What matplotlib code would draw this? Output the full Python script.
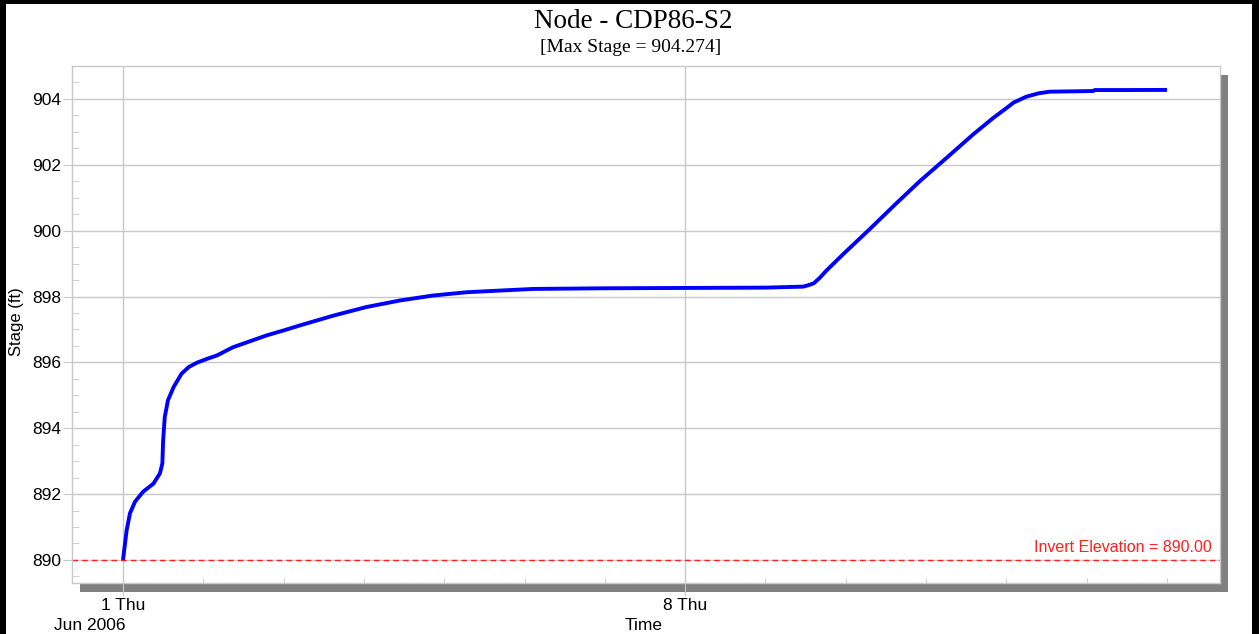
import matplotlib
matplotlib.use("Agg")
import matplotlib.pyplot as plt
import matplotlib.dates as mdates
from matplotlib.patches import Rectangle
import pandas as pd

# Stage hydrograph for node CDP86-S2 (days after 2006-06-01 00:00, stage in ft)
start = pd.Timestamp("2006-06-01")
day_offsets = [0.0, 0.046, 0.087, 0.15, 0.25, 0.38, 0.46, 0.49, 0.50, 0.52,
               0.56, 0.63, 0.73, 0.82, 0.92, 1.05, 1.17, 1.37, 1.58, 1.79,
               2.0, 2.2, 2.62, 3.03, 3.45, 3.86, 4.28, 4.69, 5.11, 6.0,
               7.0, 8.0, 8.47, 8.53, 8.6, 8.67, 8.76, 8.97, 9.3, 9.63,
               9.93, 10.26, 10.59, 10.84, 11.0, 11.09, 11.25, 11.4, 11.54, 12.08,
               12.1, 12.5, 13.0]
stage = [890.0, 890.91, 891.42, 891.77, 892.07, 892.32, 892.63, 892.93, 893.64, 894.34,
         894.85, 895.25, 895.66, 895.86, 895.99, 896.11, 896.21, 896.46, 896.64, 896.82,
         896.97, 897.12, 897.42, 897.68, 897.88, 898.03, 898.13, 898.18, 898.23, 898.25,
         898.26, 898.27, 898.30, 898.34, 898.40, 898.55, 898.79, 899.29, 900.05, 900.83,
         901.52, 902.22, 902.93, 903.43, 903.72, 903.89, 904.07, 904.17, 904.22, 904.24,
         904.27, 904.27, 904.274]
y_ticks = [890, 892, 894, 896, 898, 900, 902, 904]
invert_elevation = 890.00
max_stage = 904.274

times = start + pd.to_timedelta(day_offsets, unit="D")

W, H = 1259, 634
fig = plt.figure(figsize=(W / 100, H / 100), dpi=100)
fig.patch.set_facecolor("white")

ax_l, ax_r, ax_t, ax_b = 72, 1220, 66, 583
ax = fig.add_axes([ax_l / W, 1 - ax_b / H, (ax_r - ax_l) / W, (ax_b - ax_t) / H])

# drop shadow behind the plot area
fig.patches.append(Rectangle((80 / W, 1 - 592 / H), (1228 - 80) / W, (592 - 75) / H,
                             transform=fig.transFigure, facecolor="#808080",
                             edgecolor="none", zorder=-1))
# black window frame
for x0, y0, w, h in [(0, 0, 6, H), (0, 0, W, 4), (W - 7, 0, 7, H)]:
    fig.patches.append(Rectangle((x0 / W, 1 - (y0 + h) / H), w / W, h / H,
                                 transform=fig.transFigure, facecolor="black",
                                 edgecolor="none", zorder=5))

ax.plot(times, stage, color="#0000ff", lw=2.8, solid_capstyle="butt",
        solid_joinstyle="round", zorder=3)
ax.axhline(invert_elevation, color="#ff2020", lw=1, ls=(0, (4, 3)), zorder=2)
ax.text(0.9925, invert_elevation + 0.15, f"Invert Elevation = {invert_elevation:.2f}",
        transform=ax.get_yaxis_transform(), ha="right", va="bottom",
        color="#ff2020", fontsize=11.5, family="Liberation Sans")

x0 = start - pd.Timedelta(days=0.635)
x1 = start + pd.Timedelta(days=13.66)
ax.set_xlim(x0, x1)
ax.set_ylim(889.3, 905.0)

grid_c = "#c8c8c8"
for s in ax.spines.values():
    s.set_color(grid_c)
    s.set_linewidth(1)

ax.set_yticks(y_ticks)
ax.set_yticks([v / 2 for v in range(1779, 1810)], minor=True)
ax.xaxis.set_major_locator(mdates.DayLocator(bymonthday=[1, 8]))
ax.xaxis.set_minor_locator(mdates.DayLocator())
ax.xaxis.set_major_formatter(
    plt.FuncFormatter(lambda v, p: f"{mdates.num2date(v).day} {mdates.num2date(v):%a}"))

ax.grid(True, which="major", color=grid_c, lw=1)
ax.tick_params(axis="y", which="major", direction="out", length=6.5, color=grid_c,
               labelsize=12.5, pad=1.5)
ax.tick_params(axis="y", which="minor", direction="in", length=5, color=grid_c)
ax.tick_params(axis="x", which="major", direction="out", length=9, color=grid_c,
               labelsize=12.5, pad=1.5)
ax.tick_params(axis="x", which="minor", direction="in", length=3.6, color=grid_c)
for lab in ax.get_xticklabels() + ax.get_yticklabels():
    lab.set_family("Liberation Sans")

fig.text(90 / W, 1 - 626 / H, "Jun 2006", ha="center", va="center",
         fontsize=12.5, family="Liberation Sans")
fig.text(644 / W, 1 - 625 / H, "Time", ha="center", va="center",
         fontsize=12.5, family="Liberation Sans")
fig.text(17 / W, 1 - 322 / H, "Stage (ft)", ha="center", va="center", rotation=90,
         fontsize=12, family="Liberation Sans")

fig.text(633 / W, 1 - 22 / H, "Node - CDP86-S2", ha="center", va="center",
         fontsize=19.5, family="Liberation Serif")
fig.text(631 / W, 1 - 47 / H, f"[Max Stage = {max_stage:.3f}]", ha="center", va="center",
         fontsize=14, family="Liberation Serif")

fig.savefig("out.png", dpi=100)
